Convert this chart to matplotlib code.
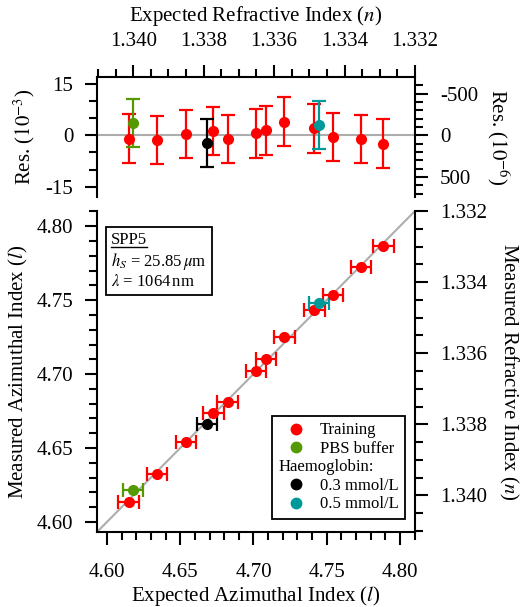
import matplotlib
matplotlib.use('Agg')
import matplotlib.pyplot as plt
import numpy as np
from matplotlib.lines import Line2D
from matplotlib.ticker import MultipleLocator, FormatStrFormatter

params = {'font.family': 'serif',
          'font.serif': ['Liberation Serif', 'DejaVu Serif'],
          'mathtext.fontset': 'stix',
          'font.size': 15,
          'axes.unicode_minus': False,
          'axes.linewidth': 1.5,
          'xtick.direction': 'out',
          'ytick.direction': 'out',
          'xtick.major.size': 9, 'ytick.major.size': 9,
          'xtick.minor.size': 6, 'ytick.minor.size': 6,
          'xtick.major.width': 1.5, 'ytick.major.width': 1.5,
          'xtick.minor.width': 1.5, 'ytick.minor.width': 1.5,
          'xtick.major.pad': 10, 'ytick.major.pad': 8}
matplotlib.rcParams.update(params)

RED = (1.0, 0.0, 0.0)
GREEN = (0.33, 0.6, 0.0)
TEAL = (0.0, 0.6, 0.6)
BLACK = (0.0, 0.0, 0.0)
GREY = (0.68, 0.68, 0.68)

# expected azimuthal index and residuals (1e-3)
train_l = [4.6147, 4.6341, 4.6539, 4.6727, 4.6823, 4.7018,
           4.7086, 4.7211, 4.7416, 4.7542, 4.7735, 4.7887]
train_res = [-0.97, -1.4, 0.39, 1.2, -1.0, 0.53,
             1.4, 4.0, 2.0, -0.5, -1.0, -2.4]
train_err = [7.05] * 12

pbs_l = [4.6177]
pbs_res = [3.6]
pbs_err = [7.0]

hb03_l = [4.6682]
hb03_res = [-2.2]
hb03_err = [7.0]

hb05_l = [4.7448]
hb05_res = [2.95]
hb05_err = [7.0]

series = [(train_l, train_res, train_err, RED),
          (pbs_l, pbs_res, pbs_err, GREEN),
          (hb03_l, hb03_res, hb03_err, BLACK),
          (hb05_l, hb05_res, hb05_err, TEAL)]

lims = (4.5932, 4.8103)


# mapping between azimuthal index and refractive index
def l2n(l):
    return 1.340 - (np.asarray(l) - 4.6179) / 24.05


def n2l(n):
    return 4.6179 + (1.340 - np.asarray(n)) * 24.05


def res2ppm(r):
    return -41.1 * np.asarray(r)


def ppm2res(p):
    return -np.asarray(p) / 41.1


fig = plt.figure(figsize=(5.23, 6.07), dpi=100)
ax_r = fig.add_axes([0.1855, 0.6755, 0.608, 0.1976])
ax = fig.add_axes([0.1855, 0.1236, 0.608, 0.5288])

ebkw = dict(fmt='o', ms=7, elinewidth=1.6, capsize=5, capthick=1.6)

# residual panel
ax_r.axhline(0, color=GREY, lw=1.5, zorder=0)
for l, r, e, c in series:
    ax_r.errorbar(l, r, yerr=e, color=c, **ebkw)
ax_r.set_xlim(lims)
ax_r.set_ylim(-18, 17)
ax_r.spines['bottom'].set_visible(False)
ax_r.spines['top'].set_visible(False)
ax_r.spines['right'].set_visible(False)
ax_r.tick_params(axis='x', bottom=False, labelbottom=False)
ax_r.yaxis.set_major_locator(MultipleLocator(15))
ax_r.yaxis.set_minor_locator(MultipleLocator(5))
ax_r.set_ylabel('Res. ($10^{-3}$)', labelpad=6)

top = ax_r.secondary_xaxis('top', functions=(l2n, n2l))
top.xaxis.set_major_locator(MultipleLocator(0.002))
top.xaxis.set_minor_locator(MultipleLocator(0.0005))
top.xaxis.set_major_formatter(FormatStrFormatter('%.3f'))
top.set_xlabel('Expected Refractive Index ($n$)', labelpad=8)

rr = ax_r.secondary_yaxis('right', functions=(res2ppm, ppm2res))
rr.yaxis.set_major_locator(MultipleLocator(500))
rr.yaxis.set_minor_locator(MultipleLocator(100))
rr.tick_params(axis='y', pad=9)
rr.set_ylabel('Res. ($10^{-6}$)', rotation=270, labelpad=24)

# main panel
ax.plot(lims, lims, color=GREY, lw=1.5, zorder=0)
for l, r, e, c in series:
    meas = np.asarray(l) + np.asarray(r) * 1e-3
    ax.errorbar(l, meas, xerr=np.asarray(e) * 1e-3, color=c, **ebkw)
ax.set_xlim(lims)
ax.set_ylim(lims)
ax.spines['top'].set_visible(False)
ax.spines['right'].set_visible(False)
ax.xaxis.set_major_locator(MultipleLocator(0.05))
ax.xaxis.set_minor_locator(MultipleLocator(0.01))
ax.yaxis.set_major_locator(MultipleLocator(0.05))
ax.yaxis.set_minor_locator(MultipleLocator(0.01))
ax.xaxis.set_major_formatter(FormatStrFormatter('%.2f'))
ax.yaxis.set_major_formatter(FormatStrFormatter('%.2f'))
ax.tick_params(axis='x', pad=13)
ax.set_xlabel('Expected Azimuthal Index ($l$)', labelpad=2)
ax.set_ylabel('Measured Azimuthal Index ($l$)', labelpad=5)

rn = ax.secondary_yaxis('right', functions=(l2n, n2l))
rn.yaxis.set_major_locator(MultipleLocator(0.002))
rn.yaxis.set_minor_locator(MultipleLocator(0.0005))
rn.yaxis.set_major_formatter(FormatStrFormatter('%.3f'))
rn.tick_params(axis='y', pad=9)
rn.set_ylabel('Measured Refractive Index ($n$)', rotation=270, labelpad=24)

# info box
info = ax.text(0.045, 0.935,
               'SPP5\n$h_S$ = 25.85$\\,\\mu$m\n$\\lambda$ = 1064$\\,$nm',
               transform=ax.transAxes, fontsize=12, va='top', ha='left',
               linespacing=1.2,
               bbox=dict(boxstyle='square,pad=0.3', fc='white', ec='black', lw=1.3))

# legend (third row is a header, written in below)
handles = [Line2D([], [], ls='none', marker='o', ms=7.5, color=RED),
           Line2D([], [], ls='none', marker='o', ms=7.5, color=GREEN),
           Line2D([], [], ls='none', marker='none'),
           Line2D([], [], ls='none', marker='o', ms=7.5, color=BLACK),
           Line2D([], [], ls='none', marker='o', ms=7.5, color=TEAL)]
labels = ['Training', 'PBS buffer', ' ', '0.3 mmol/L', '0.5 mmol/L']
leg = ax.legend(handles, labels, loc='lower right', bbox_to_anchor=(0.969, 0.040),
                borderaxespad=0, fontsize=12, labelspacing=0.15, handlelength=2.07,
                handletextpad=0.4, fancybox=False, framealpha=1, edgecolor='black',
                borderpad=0.4)
leg.get_frame().set_linewidth(1.3)

fig.canvas.draw()
r = fig.canvas.get_renderer()

# header line inside the legend
fb = leg.get_frame().get_window_extent(r)
t1 = leg.get_texts()[1].get_window_extent(r)
t3 = leg.get_texts()[3].get_window_extent(r)
hy = 0.5 * (t1.y0 + t1.y1 + t3.y0 + t3.y1) / 2.0
fig.text((fb.x0 + 7) / fig.bbox.width, hy / fig.bbox.height, 'Haemoglobin:',
         fontsize=12, ha='left', va='center')

# underline the sample name
bb = info.get_window_extent(r)
tmp = ax.text(0, 0, 'SPP5', fontsize=12, transform=None)
wb = tmp.get_window_extent(r)
tmp.remove()
lh = bb.height / 3.0
uy = bb.y1 - lh * 0.78
fig.add_artist(Line2D([bb.x0, bb.x0 + wb.width], [uy, uy], color='black', lw=1.0,
                      transform=None))

plt.savefig('out.png', dpi=100)
